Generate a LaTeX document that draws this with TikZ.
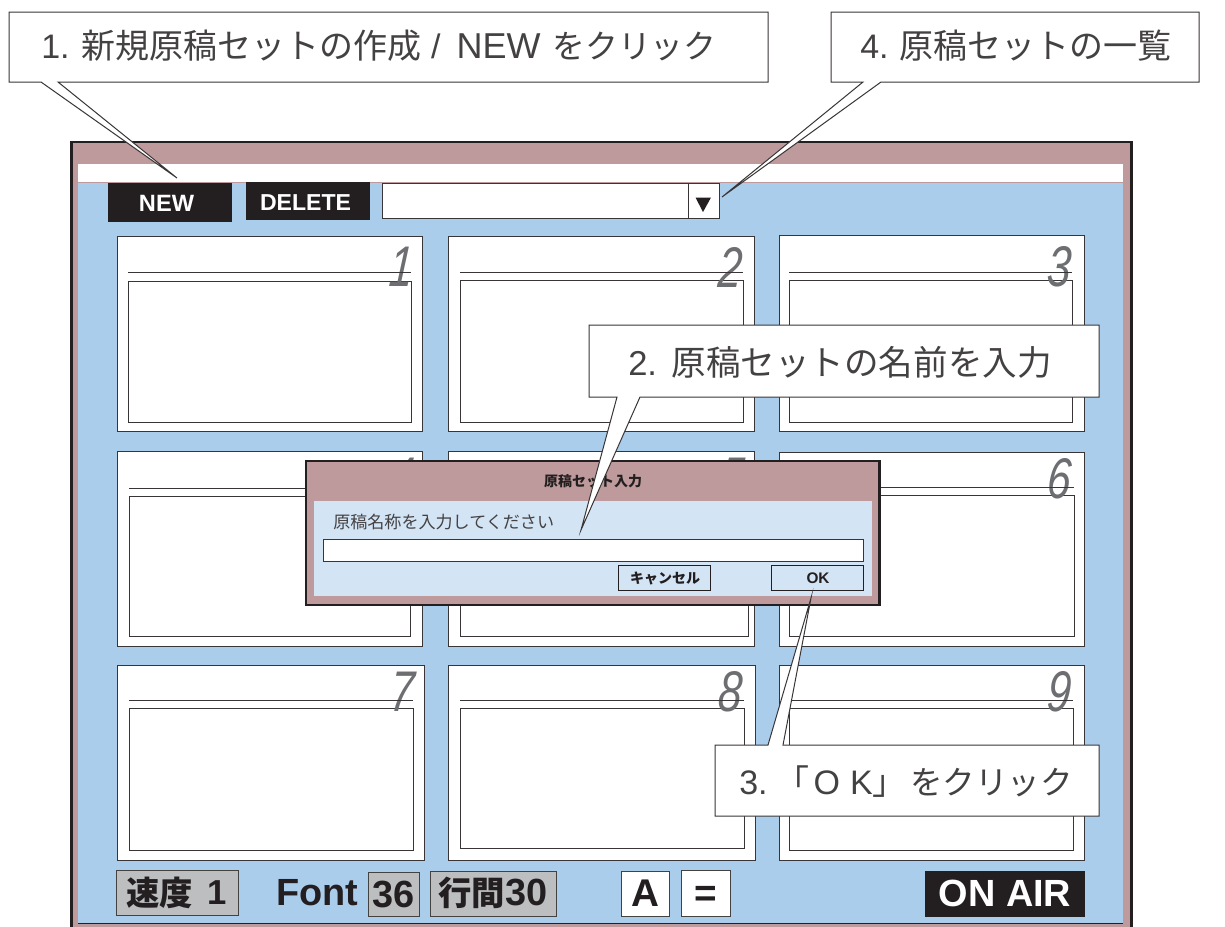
\documentclass[tikz,border=0pt]{standalone}
\usepackage{fontspec}
\setmainfont{Noto Sans CJK JP}
\newfontfamily\lat{Liberation Sans}
\definecolor{winblue}{HTML}{ABCDEC}
\definecolor{rose}{HTML}{BF9A9C}
\definecolor{dlgblue}{HTML}{D3E4F5}
\definecolor{btngray}{HTML}{BCBEC0}
\definecolor{ink}{HTML}{231F20}
\definecolor{numgray}{HTML}{6D6E71}
\newcommand{\fsz}[1]{\fontsize{#1}{#1}\selectfont}
\tikzset{
  panelline/.style={draw=ink!90,line width=0.72pt},
  calloutbox/.style={draw=ink!90,line width=0.75pt,fill=white,line join=miter,miter limit=30},
  calltext/.style={inner sep=0pt,anchor=center,text=ink},
  lighttext/.style={calltext,anchor=west,text=ink!85},
  numlabel/.style={inner sep=0pt,anchor=center,text=numgray,xscale=0.74,yscale=1.0,xslant=0.1},
  blackbtn/.style={fill=ink,draw=ink,line width=0.5pt},
  graybtn/.style={fill=btngray,draw=ink!85,line width=0.7pt},
  whitebtn/.style={fill=white,draw=ink!85,line width=0.7pt},
  dlgbtn/.style={fill=dlgblue,draw=ink,line width=0.7pt},
}
\newcommand{\thumb}[9]{%
  \draw[panelline,fill=white] (#1,#2) rectangle (#3,#4);
  \draw[panelline,fill=white] (#6,#7) rectangle (#8,#9);
}
\newcommand{\thumbline}[3]{\draw[panelline] (#1,#3) -- (#2,#3);}
\begin{document}
\begin{tikzpicture}[x=0.75pt,y=-0.75pt]
\useasboundingbox (0,0) rectangle (1225,926);
\fill[white] (0,0) rectangle (1225,926);
\draw[fill=rose,draw=ink,line width=2.2pt] (71.5,142) rectangle (1131.5,940);
\fill[white] (78,164) rectangle (1123,183);
\fill[winblue] (78,183) rectangle (1123,923);
\draw[rose,line width=0.7pt] (78,182.6) -- (1123,182.6);
\draw[ink,line width=0.5pt] (78,923) -- (1123,923);
% top controls
\node[blackbtn,minimum width=92.5pt,minimum height=28.5pt,inner sep=0pt] (newbtn) at (170,202) {};
\node[text=white,font=\fsz{17.7}\lat\bfseries,inner sep=0pt] (newtxt) at (166.5,203) {NEW};
\node[blackbtn,minimum width=92pt,minimum height=28pt,inner sep=0pt] (delbtn) at (307.5,200.5) {};
\node[text=white,font=\fsz{17.3}\lat\bfseries,inner sep=0pt] (deltxt) at (305.5,203) {DELETE};
\draw[panelline,fill=white] (382.5,183) rectangle (719,218.5);
\draw[panelline] (688,183) -- (688,218.5);
\fill[ink] (695.5,197.5) -- (711,197.5) -- (703,212) -- cycle;
% thumbnails
\thumb{117}{236}{422}{431}{272}{128}{281}{411}{422}
\thumb{448}{236}{754}{431}{272}{460}{280}{743}{422}
\thumb{779}{235}{1084}{431}{272}{789}{280}{1072}{422}
\thumb{117}{451}{422}{646}{488}{129}{496}{410}{636}
\thumb{448}{451}{754}{646}{488}{460}{496}{748}{636}
\thumb{779}{452}{1084}{646}{487}{789}{495}{1074}{636}
\thumb{117}{665}{424}{860}{700}{129}{708}{413}{850}
\thumb{448}{665}{755}{860}{700}{460}{708}{744}{848}
\thumb{779}{665}{1084}{860}{700}{789}{708}{1073}{850}
% numbers
\foreach \n/\nx/\ny in {1/402/267,2/731/267,3/1060/267,4/403/478,5/733/478,6/1060/479,7/403/692,8/731/692,9/1060/692}{
  \node[numlabel,font=\fsz{43}\lat\itshape] (num\n) at (\nx,\ny) {\n};
}
\thumbline{128}{411}{272}
\thumbline{460}{743}{272}
\thumbline{789}{1072}{272}
\thumbline{129}{410}{488}
\thumbline{460}{748}{488}
\thumbline{789}{1074}{487}
\thumbline{129}{413}{700}
\thumbline{460}{744}{700}
\thumbline{789}{1073}{700}
% bottom bar
\draw[graybtn] (116,870) rectangle (238.5,915);
\node[calltext,anchor=west,font=\fsz{25}\bfseries] (speed) at (126,893) {速度};
\node[calltext,font=\fsz{26}\lat\bfseries] (speedval) at (217,893) {1};
\node[calltext,font=\fsz{28.4}\lat\bfseries] (fontlbl) at (317,893) {Font};
\draw[graybtn] (368,872) rectangle (419,916);
\node[calltext,font=\fsz{28.4}\lat\bfseries] (fontval) at (393.5,894) {36};
\draw[graybtn] (430,871) rectangle (556,916);
\node[calltext,font=\fsz{25}\bfseries] (gyokan) at (493,893) {行間{\fsz{28.4}\lat\bfseries 30}};
\draw[whitebtn] (621,871) rectangle (669,916);
\node[calltext,font=\fsz{29}\lat\bfseries] (abtn) at (645,893) {A};
\draw[whitebtn] (681.5,870) rectangle (730,916);
\node[calltext,font=\fsz{29}\lat\bfseries] (eqbtn) at (706,896) {=};
\node[blackbtn,minimum width=119pt,minimum height=34pt,inner sep=0pt] (onair) at (1005,894) {};
\node[calltext,text=white,font=\fsz{28.4}\lat\bfseries] (onairtxt) at (1005,893) {ON AIR};
% dialog
\draw[fill=rose,draw=ink,line width=1.9pt] (306,461) rectangle (879.5,605);
\fill[dlgblue] (314,501) rectangle (872,596);
\node[calltext,font=\fsz{10.5}\bfseries] (dlgtitle) at (593,481) {原稿セット入力};
\node[lighttext,font=\fsz{12.8}] (dlgprompt) at (333,522) {原稿名称を入力してください};
\draw[panelline,fill=white] (323,539) rectangle (863.5,561);
\draw[dlgbtn] (618,565) rectangle (710.5,590.5);
\node[calltext,font=\fsz{10.5}\bfseries] (cancel) at (665,578) {キャンセル};
\draw[dlgbtn] (771,565) rectangle (863,590.5);
\node[calltext,font=\fsz{11.5}\lat\bfseries] (okbtn) at (818,578) {OK};
% callouts
\coordinate (tip1) at (177,178);
\coordinate (tip2) at (581,530);
\coordinate (tip3) at (811,598);
\coordinate (tip4) at (722,197);
\draw[calloutbox] (9,12) -- (768,12) -- (768,82) -- (58,82) -- (tip1) -- (41,82) -- (9,82) -- cycle;
\node[lighttext,font=\fsz{25.5}] (call1) at (41,46) {{\lat 1.}\hspace{9pt}新規原稿セットの作成{\lat\ /\hspace{12pt}\fsz{27}NEW\hspace{9pt}}{\fsz{24.6}をクリック}};
\draw[calloutbox] (831,12) -- (1199,12) -- (1199,82) -- (881,82) -- (tip4) -- (863,82) -- (831,82) -- cycle;
\node[lighttext,font=\fsz{25.5}] (call4) at (860,46) {{\lat 4.}\hspace{8pt}原稿セットの一覧};
\draw[calloutbox] (589,325) -- (1099,325) -- (1099,397) -- (640,397) -- (tip2) -- (617,397) -- (589,397) -- cycle;
\node[lighttext,font=\fsz{25.9}] (call2) at (628,362) {{\lat 2.}\hspace{11pt}原稿セットの名前を入力};
\draw[calloutbox] (715,745) -- (768,745) -- (tip3) -- (783,745) -- (1099,745) -- (1099,816) -- (715,816) -- cycle;
\node[lighttext,font=\fsz{25.5}] (call3) at (739,782) {{\lat 3.}\hspace{6pt}「\hspace{3pt}{\lat O\hspace{7.5pt}K}」\hspace{2.5pt}{\fsz{24.4}をクリック}};
\end{tikzpicture}
\end{document}
